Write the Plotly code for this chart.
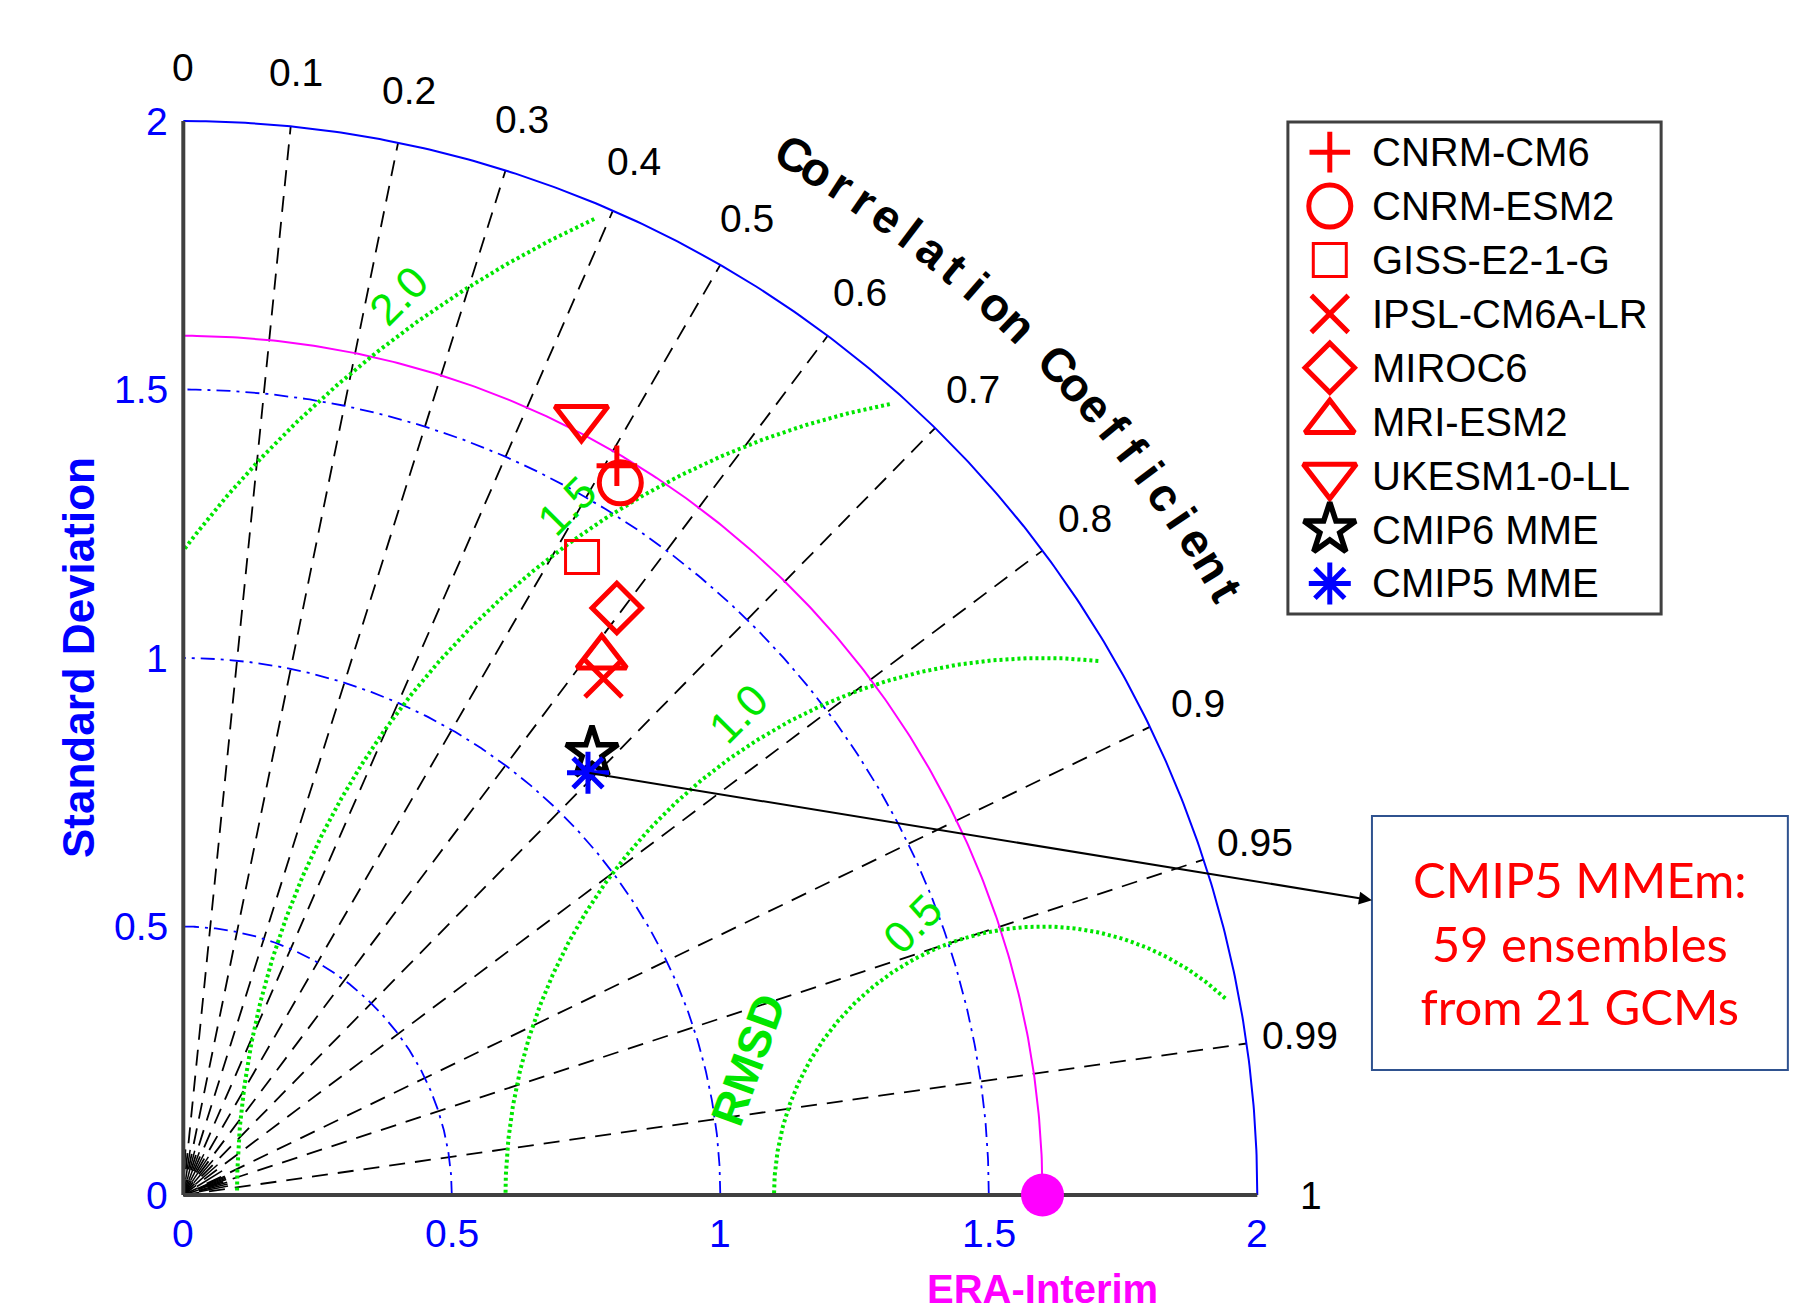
import numpy as np
import plotly.graph_objects as go

# ---------------- data ----------------
models = ["CNRM-CM6", "CNRM-ESM2", "GISS-E2-1-G", "IPSL-CM6A-LR", "MIROC6",
          "MRI-ESM2", "UKESM1-0-LL", "CMIP6 MME", "CMIP5 MME"]
std_dev = [1.580, 1.556, 1.401, 1.240, 1.359, 1.269, 1.626, 1.121, 1.089]
corr_coef = [0.511, 0.523, 0.530, 0.631, 0.594, 0.614, 0.456, 0.679, 0.692]
ref_name = "ERA-Interim"
ref_std = 1.6

corr_ticks = [0, 0.1, 0.2, 0.3, 0.4, 0.5, 0.6, 0.7, 0.8, 0.9, 0.95, 0.99, 1]
corr_tick_labels = ["0", "0.1", "0.2", "0.3", "0.4", "0.5", "0.6", "0.7", "0.8",
                    "0.9", "0.95", "0.99", "1"]
corr_minor = [0.05, 0.15, 0.25, 0.35, 0.45, 0.55, 0.65, 0.75, 0.85,
              0.91, 0.92, 0.93, 0.94, 0.96, 0.97, 0.98]
std_ticks = [0, 0.5, 1, 1.5, 2]
std_tick_labels = ["0", "0.5", "1", "1.5", "2"]
std_circles = [0.5, 1.0, 1.5]
std_max = 2.0
rmsd_levels = [0.5, 1.0, 1.5, 2.0]
rmsd_labels = ["0.5", "1.0", "1.5", "2.0"]
note_lines = ["CMIP5 MMEm:", "59 ensembles", "from 21 GCMs"]

# ---------------- styles ----------------
sym = ["cross-thin-open", "circle-open", "square-open", "x-thin-open", "diamond-open",
       "triangle-up-open", "triangle-down-open", "star-open", "asterisk-open"]
col = ["red"] * 7 + ["black", "blue"]
msize = [29, 42, 33, 37, 38, 43, 46, 39, 35]
lw = [5, 5, 3, 5, 5, 5, 5, 5.5, 5]

BLUE = "#0000FF"
GREEN = "#00E600"
MAG = "#FF00FF"
FONT = "Liberation Sans, Arial, sans-serif"

# page geometry
W, H = 1793, 1313
X0, Y0, S = 183.3, 1195.0, 537.0
xr = [-X0 / S, (W - X0) / S]
yr = [(Y0 - H) / S, Y0 / S]

fig = go.Figure()


def add_line(xs, ys, color, width, dash=None):
    fig.add_trace(go.Scatter(x=xs, y=ys, mode="lines", hoverinfo="skip",
                             line=dict(color=color, width=width, dash=dash)))


# correlation lines
xs, ys = [], []
for c in corr_ticks[1:-1]:
    a = np.arccos(c)
    xs += [0, std_max * np.cos(a), None]
    ys += [0, std_max * np.sin(a), None]
add_line(xs, ys, "black", 1.8, "16px,10px")
xs, ys = [], []
for c in corr_minor:
    a = np.arccos(c)
    xs += [0.03 * np.cos(a), 0.085 * np.cos(a), None]
    ys += [0.03 * np.sin(a), 0.085 * np.sin(a), None]
add_line(xs, ys, "black", 1.5)

th = np.linspace(0, np.pi / 2, 300)
# std circles
for r in std_circles:
    add_line(r * np.cos(th), r * np.sin(th), BLUE, 1.8, "14px,6px,3px,6px")
add_line(std_max * np.cos(th), std_max * np.sin(th), BLUE, 2)
# reference arc
add_line(ref_std * np.cos(th), ref_std * np.sin(th), MAG, 2)

# RMSD circles
ph = np.linspace(0, np.pi, 800)
for r in rmsd_levels:
    px = ref_std + r * np.cos(ph)
    py = r * np.sin(ph)
    m = (px >= 0) & (np.hypot(px, py) <= 1.975)
    add_line(px[m], py[m], GREEN, 4, "3px,3px")

# axes
add_line([0, std_max], [0, 0], "#404040", 4)
add_line([0, 0], [0, std_max], "#404040", 4)

# reference point
fig.add_trace(go.Scatter(x=[ref_std], y=[0], mode="markers", hoverinfo="skip",
                         marker=dict(size=43, color=MAG), cliponaxis=False))

# model points
for i, name in enumerate(models):
    a = np.arccos(corr_coef[i])
    fig.add_trace(go.Scatter(
        x=[std_dev[i] * np.cos(a)], y=[std_dev[i] * np.sin(a)], mode="markers",
        name=name, hoverinfo="name",
        marker=dict(symbol=sym[i], size=msize[i], color=col[i],
                    line=dict(color=col[i], width=lw[i]))))

ann = []
# correlation tick labels
for c, lab in zip(corr_ticks, corr_tick_labels):
    a = np.arccos(c)
    ann.append(dict(x=2.1 * np.cos(a), y=2.1 * np.sin(a), text=lab, showarrow=False,
                    font=dict(family=FONT, size=39, color="black"),
                    xanchor="center", yanchor="middle"))
# std tick labels
for v, lab in zip(std_ticks, std_tick_labels):
    ann.append(dict(x=v, y=-0.072, text=lab, showarrow=False,
                    font=dict(family=FONT, size=39, color=BLUE),
                    xanchor="center", yanchor="middle"))
    ann.append(dict(x=-0.025, y=v, text=lab, showarrow=False,
                    font=dict(family=FONT, size=39, color=BLUE),
                    xanchor="right", yanchor="middle"))
# RMSD labels
rmsd_ang = [115.6, 122.3, 124.6, 125.6]
for r, lab, ang in zip(rmsd_levels, rmsd_labels, rmsd_ang):
    t = np.radians(ang)
    ann.append(dict(x=ref_std + (r + 0.06) * np.cos(t), y=(r + 0.06) * np.sin(t),
                    text=lab, showarrow=False, textangle=-45,
                    font=dict(family=FONT, size=44, color=GREEN)))
ann.append(dict(x=1.052, y=0.251, text="<b>RMSD</b>", showarrow=False, textangle=-70,
                font=dict(family=FONT, size=46, color=GREEN)))
# axis titles
ann.append(dict(x=-0.196, y=1.0, text="<b>Standard Deviation</b>", showarrow=False,
                textangle=-90, font=dict(family=FONT, size=44, color=BLUE)))
ann.append(dict(x=ref_std, y=-0.2197, text="<b>" + ref_name + "</b>", showarrow=False,
                yanchor="bottom",
                font=dict(family=FONT, size=40, color=MAG)))
# curved "Correlation Coefficient"
title = "Correlation Coefficient"
angs = np.linspace(59.6, 30.1, len(title))
for ch, ang in zip(title, angs):
    if ch == " ":
        continue
    t = np.radians(ang)
    ann.append(dict(x=2.246 * np.cos(t), y=2.246 * np.sin(t), text="<b>" + ch + "</b>",
                    showarrow=False, textangle=90 - ang,
                    font=dict(family=FONT, size=47, color="black")))

# legend (drawn manually)
lx0, lx1, ly0, ly1 = 2.057, 2.752, 1.082, 1.998
fig.add_shape(type="rect", x0=lx0, x1=lx1, y0=ly0, y1=ly1,
              line=dict(color="#404040", width=3), fillcolor="white", layer="below")
row_top, row_step = 1.942, 0.1004
for i, name in enumerate(models):
    yy = row_top - i * row_step
    fig.add_trace(go.Scatter(
        x=[2.135], y=[yy], mode="markers", hoverinfo="skip",
        marker=dict(symbol=sym[i], size=msize[i], color=col[i],
                    line=dict(color=col[i], width=lw[i]))))
    ann.append(dict(x=2.21, y=yy, text=name, showarrow=False, xanchor="left",
                    yanchor="middle", font=dict(family=FONT, size=40, color="black")))

# note box with arrow
bx0, bx1, by0, by1 = 2.2135, 2.988, 0.2328, 0.7058
fig.add_shape(type="rect", x0=bx0, x1=bx1, y0=by0, y1=by1,
              line=dict(color="#2F528F", width=2), fillcolor="white")
a5 = np.arccos(corr_coef[-1])
ann.append(dict(x=bx0, y=0.549, ax=std_dev[-1] * np.cos(a5), ay=std_dev[-1] * np.sin(a5),
                axref="x", ayref="y", xref="x", yref="y", text="", showarrow=True,
                arrowhead=2, arrowsize=1.3, arrowwidth=2, arrowcolor="black"))
ann.append(dict(x=(bx0 + bx1) / 2, y=(by0 + by1) / 2, text="<br>".join(note_lines),
                showarrow=False, font=dict(family="Lato, Carlito, sans-serif", size=49,
                                           color="red")))

fig.update_layout(
    width=W, height=H, margin=dict(l=0, r=0, t=0, b=0),
    paper_bgcolor="white", plot_bgcolor="white", showlegend=False,
    xaxis=dict(range=xr, visible=False, fixedrange=True),
    yaxis=dict(range=yr, visible=False, fixedrange=True),
    annotations=ann,
)
fig.write_html("out.html", config={"displayModeBar": False},
               post_script="document.body.style.margin='0px';"
                           "document.body.style.overflow='hidden';")
